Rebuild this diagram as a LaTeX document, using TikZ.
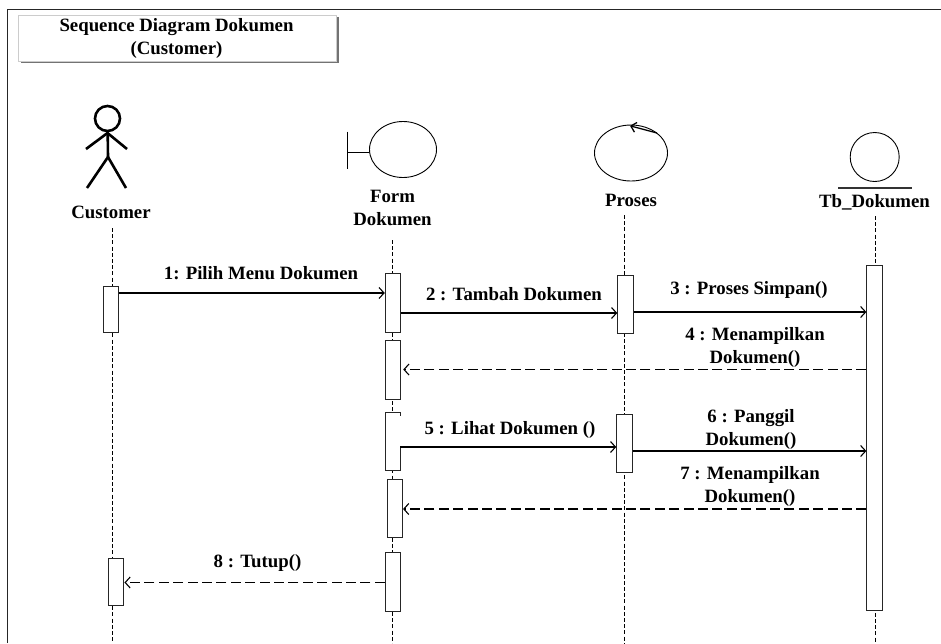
\documentclass[tikz,border=0pt]{standalone}
\usepackage{fontspec}
\setmainfont{Liberation Serif}
\usetikzlibrary{arrows.meta,shapes.geometric}

\tikzset{
  txt/.style={font=\bfseries\fontsize{18.8}{23}\selectfont,align=center,inner sep=0pt},
  bar/.style={draw=black!85,fill=white,line width=1pt,rectangle,inner sep=0pt,minimum width=15.5pt},
  life/.style={line width=1pt,dash pattern=on 4pt off 2.2pt},
  call/.style={line width=1.1pt,-{Straight Barb[length=5pt,width=11pt]}},
  back/.style={line width=1.1pt,dash pattern=on 10pt off 4.4pt,-{Straight Barb[length=5pt,width=11pt]}}
}

\begin{document}
\begin{tikzpicture}[x=1pt, y=-1pt]
        \useasboundingbox (0,0) rectangle (941,643);
        \tikzstyle{stick}=[line width=2.6pt]
        \tikzstyle{glyph}=[draw,line width=0.9pt,inner sep=0pt]

        % frame
        \coordinate (F_a) at (7.5,643);
        \coordinate (F_b) at (7.5,9.2);
        \coordinate (F_c) at (941,9.2);
        \draw[line width=1pt,black!85] (F_a) -- (F_b) -- (F_c);

        % title
        \node[fill=black!55,minimum width=318pt,minimum height=46pt] (T_s) at (179.5,40.3) {};
        \node[draw=black!20,fill=white,line width=0.8pt,minimum width=318pt,minimum height=46pt] (T_b) at (177,38) {};
        \node[txt] (T_1) at (176.5,38.7) {Sequence Diagram Dokumen\\(Customer)};

        % actor
        \node[glyph,circle,stick,minimum size=25pt] (A_h) at (107.5,118.5) {};
        \coordinate (A_n) at (107.5,133);
        \coordinate (A_w) at (108,157);
        \coordinate (A_l) at (86,149);
        \coordinate (A_r) at (127,149);
        \coordinate (A_p) at (87,188);
        \coordinate (A_q) at (126,188);
        \draw[stick] (A_h) -- (A_w);
        \draw[stick] (A_l) -- (A_n) -- (A_r);
        \draw[stick] (A_p) -- (A_w) -- (A_q);

        % boundary
        \node[glyph,ellipse,minimum width=67pt,minimum height=56pt] (B_o) at (403,149.5) {};
        \coordinate (B_a) at (347.5,131.5);
        \coordinate (B_b) at (347.5,168.5);
        \coordinate (B_c) at (347.5,152);
        \draw[line width=0.9pt] (B_a) -- (B_b);
        \draw[line width=0.9pt] (B_c) -- (B_c -| B_o.west);

        % control
        \node[glyph,ellipse,minimum width=73pt,minimum height=56pt] (K_o) at (631,153) {};
        \coordinate (K_a) at (657,133);
        \coordinate (K_b) at (630,125.8);
        \draw[line width=1.3pt,-{Straight Barb[length=5pt,width=10pt]}] (K_a) -- (K_b);

        % entity
        \node[glyph,circle,minimum size=49pt] (E_o) at (874.7,157) {};
        \coordinate (E_a) at (838,188);
        \coordinate (E_b) at (912,188);
        \draw[line width=1.3pt,black!80] (E_a) -- (E_b);

        % names
        \node[txt] (L_1) at (111,212) {Customer};
        \node[txt] (L_2) at (392.5,207.5) {Form\\Dokumen};
        \node[txt] (L_3) at (631,200) {Proses};
        \node[txt] (L_4) at (874.5,202) {Tb\_Dokumen};

        % lifelines
        \coordinate (Z_1) at (112,228);
        \coordinate (Z_2) at (392.3,240);
        \coordinate (Z_3) at (624,215);
        \coordinate (Z_4) at (875,216);
        \coordinate (Y_1) at (112,643);
        \coordinate (Y_2) at (392.3,643);
        \coordinate (Y_3) at (624,643);
        \coordinate (Y_4) at (875,643);
        \draw[life] (Z_1) -- (Y_1);
        \draw[life] (Z_2) -- (Y_2);
        \draw[life] (Z_3) -- (Y_3);
        \draw[life] (Z_4) -- (Y_4);

        % activations
        \node[bar,minimum height=46pt] (C_1) at (111.2,309) {};
        \node[bar,minimum height=46.5pt] (C_2) at (116.2,582) {};
        \node[bar,minimum height=58.5pt] (D_1) at (393,302.8) {};
        \node[bar,minimum height=58.5pt] (D_2) at (393,370) {};
        \node[bar,minimum height=58pt] (D_3) at (393,441.6) {};
        \node[bar,minimum height=58.5pt] (D_4) at (394.8,508.7) {};
        \node[bar,minimum height=58.5pt] (D_5) at (393,582) {};
        \node[bar,minimum height=58pt] (P_1) at (625.5,304.5) {};
        \node[bar,minimum height=58pt] (P_2) at (624.5,443.4) {};
        \node[bar,minimum height=344.7pt] (Q_1) at (874.6,437.7) {};

        % messages
        \coordinate (M_1) at (0,293);
        \coordinate (M_2) at (0,313);
        \coordinate (M_3) at (0,312);
        \coordinate (M_4) at (0,369.5);
        \coordinate (M_5) at (0,447);
        \coordinate (M_6) at (0,451);
        \coordinate (M_7) at (0,509);
        \coordinate (M_8) at (0,582.5);
        \coordinate (M_0) at (0,416);
        \draw[white,line width=1.6pt] (D_3.east |- M_0) -- (D_3.east |- M_5);
        \draw[call] (C_1.east |- M_1) -- (D_1.west |- M_1);
        \draw[call] (D_1.east |- M_2) -- (P_1.west |- M_2);
        \draw[call] (P_1.east |- M_3) -- (Q_1.west |- M_3);
        \draw[back,shorten >=2pt] (Q_1.west |- M_4) -- (D_2.east |- M_4);
        \draw[call,shorten <=-1.2pt] (D_3.east |- M_5) -- (P_2.west |- M_5);
        \draw[call] (P_2.east |- M_6) -- (Q_1.west |- M_6);
        \draw[back] (Q_1.west |- M_7) -- (D_4.east |- M_7);
        \draw[back] (D_5.west |- M_8) -- (C_2.east |- M_8);

        \node[txt] (N_1) at (261,273) {1: Pilih Menu Dokumen};
        \node[txt] (N_2) at (514,294) {2 : Tambah Dokumen};
        \node[txt] (N_3) at (749,290) {3 : Proses Simpan()};
        \node[txt] (N_4) at (755,347) {4 : Menampilkan\\Dokumen()};
        \node[txt] (N_5) at (510,430) {5 : Lihat Dokumen ()};
        \node[txt] (N_6) at (751,429) {6 : Panggil\\Dokumen()};
        \node[txt] (N_7) at (750,486) {7 : Menampilkan\\Dokumen()};
        \node[txt] (N_8) at (257.5,562.5) {8 : Tutup()};
    \end{tikzpicture}
\end{document}
